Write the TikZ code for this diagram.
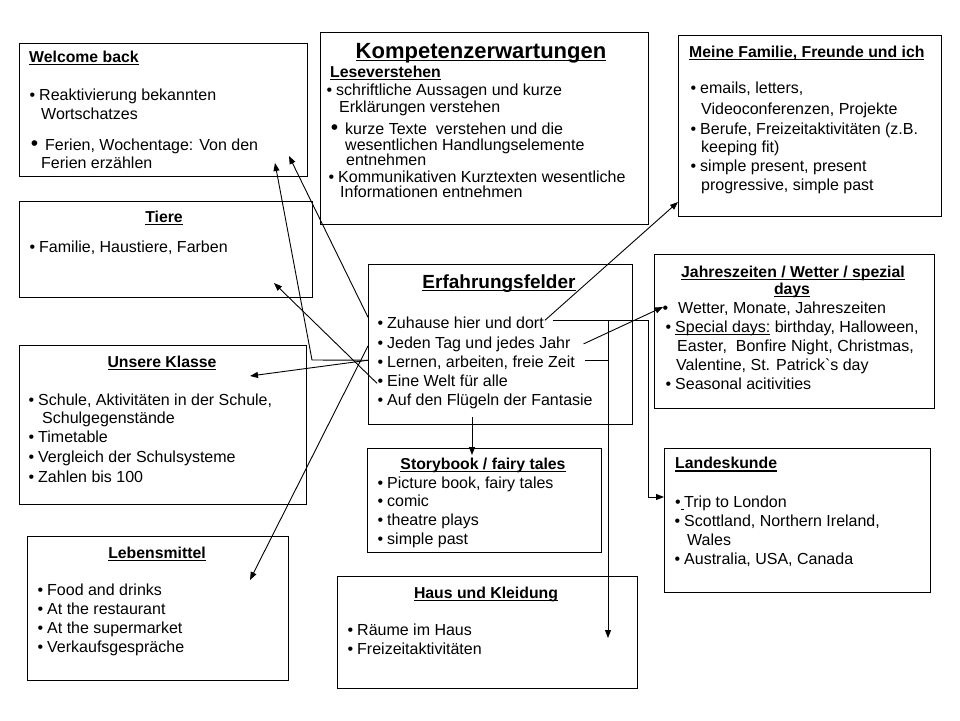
\documentclass[tikz,border=0pt]{standalone}
\usepackage{fontspec}
\setmainfont{Liberation Sans}
\usetikzlibrary{arrows.meta,calc}
\newcommand\myul[1]{\leavevmode\setbox0=\hbox{#1}\rlap{\rule[-3pt]{\wd0}{1.1pt}}\box0\relax}
\newcommand\bul{\makebox[0pt][r]{\textbullet\hspace{4pt}}}
\newcommand\bbul{\makebox[0pt][r]{{\fontsize{21}{21}\selectfont\textbullet}\hspace{7pt}}}
\begin{document}
\begin{tikzpicture}[x=1pt,y=-1pt,
  box/.style={draw, line width=1pt, anchor=north west, inner sep=0pt, outer sep=0pt},
  tx/.style={anchor=base west, inner sep=0pt, font=\fontsize{16}{19}\selectfont},
  hd/.style={anchor=base west, inner sep=0pt, font=\fontsize{15.8}{19}\selectfont\bfseries},
  hdc/.style={hd, anchor=base},
  ln/.style={line width=0.9pt},
  arr/.style={line width=0.9pt, -{Triangle[length=8pt,width=6pt]}}]
\fill[white] (0,0) rectangle (960,720);
\useasboundingbox (0,0) rectangle (960,720);

% boxes
\node[box, minimum width=288pt, minimum height=133pt] (wb) at (19,43) {};
\node[box, minimum width=328pt, minimum height=192pt] (kp) at (320,32) {};
\node[box, minimum width=263pt, minimum height=181pt] (mf) at (678,35) {};
\node[box, minimum width=293pt, minimum height=96pt] (ti) at (19,201) {};
\node[box, minimum width=264pt, minimum height=160pt] (ef) at (368,264) {};
\node[box, minimum width=280pt, minimum height=154pt] (jz) at (654,254) {};
\node[box, minimum width=287pt, minimum height=159pt] (uk) at (19,345) {};
\node[box, minimum width=234pt, minimum height=104pt] (sb) at (367,448) {};
\node[box, minimum width=266pt, minimum height=144pt] (lk) at (664,448) {};
\node[box, minimum width=261pt, minimum height=144pt] (lm) at (27,536) {};
\node[box, minimum width=300pt, minimum height=112pt] (hk) at (337,576) {};

% Welcome back
\node[hd] (wbt) at (29,62) {\myul{Welcome back}};
\node[tx] (wb1) at (39,100.5) {\bul Reaktivierung bekannten};
\node[tx] (wb2) at (41,119) {Wortschatzes};
\node[tx] (wb3) at (45,150) {\bbul Ferien, Wochentage: Von den};
\node[tx] (wb4) at (41,168) {Ferien erzählen};

% Kompetenzerwartungen
\node[hdc, font=\fontsize{22}{22}\selectfont\bfseries] (kpt) at (481,58) {\myul{Kompetenzerwartungen}};
\node[hd] (kpl) at (330,77) {\myul{Leseverstehen}};
\node[tx] (kp1) at (336,95) {\bul schriftliche Aussagen und kurze};
\node[tx] (kp2) at (339,112) {Erklärungen verstehen};
\node[tx] (kp3) at (345,134) {\bbul kurze Texte\ \ verstehen und die};
\node[tx] (kp4) at (345,150) {wesentlichen Handlungselemente};
\node[tx] (kp5) at (346,165) {entnehmen};
\node[tx] (kp6) at (338,182) {\bul Kommunikativen Kurztexten wesentliche};
\node[tx] (kp7) at (340,197) {Informationen entnehmen};

% Meine Familie
\node[hd] (mft) at (689,57) {\myul{Meine Familie, Freunde und ich}};
\node[tx] (mf1) at (700,93) {\bul emails, letters,};
\node[tx] (mf2) at (701,114) {Videoconferenzen, Projekte};
\node[tx] (mf3) at (700,134) {\bul Berufe, Freizeitaktivitäten (z.B.};
\node[tx] (mf4) at (701,152.5) {keeping fit)};
\node[tx] (mf5) at (700,171.5) {\bul simple present, present};
\node[tx] (mf6) at (701,190) {progressive,\ simple past};

% Tiere
\node[hdc] (tit) at (164,222) {\myul{Tiere}};
\node[tx] (ti1) at (39,252) {\bul Familie, Haustiere, Farben};

% Erfahrungsfelder
\node[hdc, font=\fontsize{19}{19}\selectfont\bfseries] (eft) at (499,288) {\myul{Erfahrungsfelder}};
\node[tx] (ef1) at (387,328) {\bul Zuhause hier und dort};
\node[tx] (ef2) at (387,348) {\bul Jeden Tag und jedes Jahr};
\node[tx] (ef3) at (387,367) {\bul Lernen, arbeiten, freie Zeit};
\node[tx] (ef4) at (387,386) {\bul Eine Welt für alle};
\node[tx] (ef5) at (387,405) {\bul Auf den Flügeln der Fantasie};

% Jahreszeiten
\node[hdc] (jzt1) at (793,277) {\myul{Jahreszeiten / Wetter / spezial}};
\node[hdc] (jzt2) at (792,294) {\myul{days}};
\node[tx] (jz1) at (678,313) {\makebox[0pt][r]{\textbullet\hspace{10pt}}Wetter, Monate, Jahreszeiten};
\node[tx] (jz2) at (675,332) {\bul\myul{Special days:} birthday, Halloween,};
\node[tx] (jz3) at (677,351) {Easter,\ \ Bonfire Night, Christmas,};
\node[tx] (jz4) at (676,370) {Valentine, St. Patrick\textasciigrave s day};
\node[tx] (jz5) at (675,389) {\bul Seasonal acitivities};

% Unsere Klasse
\node[hdc] (ukt) at (162,367) {\myul{Unsere Klasse}};
\node[tx] (uk1) at (38,405.5) {\bul Schule, Aktivitäten in der Schule,};
\node[tx] (uk2) at (42,423) {Schulgegenstände};
\node[tx] (uk3) at (38,442) {\bul Timetable};
\node[tx] (uk4) at (38,462) {\bul Vergleich der Schulsysteme};
\node[tx] (uk5) at (38,482) {\bul Zahlen bis 100};

% Storybook
\node[hdc] (sbt) at (483,469) {\myul{Storybook / fairy tales}};
\node[tx] (sb1) at (387,488) {\bul Picture book, fairy tales};
\node[tx] (sb2) at (387,506.5) {\bul comic};
\node[tx] (sb3) at (387,525.5) {\bul theatre plays};
\node[tx] (sb4) at (387,544) {\bul simple past};

% Landeskunde
\node[hd] (lkt) at (675,468.5) {\myul{Landeskunde}};
\node[tx] (lk1) at (684,507) {\makebox[0pt][r]{\textbullet\myul{\hspace{3.5pt}}}Trip to London};
\node[tx] (lk2) at (684,526) {\bul Scottland, Northern Ireland,};
\node[tx] (lk3) at (687,545) {Wales};
\node[tx] (lk4) at (684,564) {\bul Australia, USA, Canada};

% Lebensmittel
\node[hdc] (lmt) at (157,558) {\myul{Lebensmittel}};
\node[tx] (lm1) at (47,595) {\bul Food and drinks};
\node[tx] (lm2) at (47,614) {\bul At the restaurant};
\node[tx] (lm3) at (47,633) {\bul At the supermarket};
\node[tx] (lm4) at (47,652.5) {\bul Verkaufsgespräche};

% Haus und Kleidung
\node[hdc] (hkt) at (486,598) {\myul{Haus und Kleidung}};
\node[tx] (hk1) at (357,635) {\bul Räume im Haus};
\node[tx] (hk2) at (357,654) {\bul Freizeitaktivitäten};

% arrow tips and bends
\coordinate (pwb1) at (289,156);
\coordinate (pwb2) at (275,163);
\coordinate (pb2) at (312,360);
\coordinate (puk) at (250,376);
\coordinate (pti) at (274,283);
\coordinate (plm) at (250,580);
\coordinate (pmf) at (678,202);
\coordinate (pbl) at (648,497);
\coordinate (plk) at (664,497);
\coordinate (pjz) at (663,307);
\coordinate (phk) at (608,638);
\coordinate (psbs) at (472,417);
\coordinate (psb) at (472,455);
\coordinate (pz) at ($(ef1.east)+(9,-2)$);
\coordinate (pl) at ($(ef.west |- ef3.west)+(0,-2)$);
\coordinate (pzeit) at ($(ef3.east)+(10,-2)$);

% connectors
\draw[arr] ($(ef.west |- ef1.west)+(0,-5)$) -- (pwb1);
\draw[arr] (pl) -- (pb2) -- (pwb2);
\draw[arr] (pl) -- (puk);
\draw[arr] ($(ef4.west)+(-10,3)$) -- (pti);
\draw[arr] ($(ef.west |- ef2.west)+(0,2)$) -- (plm);
\draw[arr] ($(ef1.east)+(1,-2)$) -- (pmf);
\draw[arr] (pz) -| (pbl) -- (plk);
\draw[arr] ($(ef2.east)+(13,0)$) -- (pjz);
\draw[ln] (pzeit) -- (pzeit -| phk);
\draw[arr] (phk |- pz) -- (phk);
\draw[arr] (psbs) -- (psb);
\end{tikzpicture}
\end{document}
